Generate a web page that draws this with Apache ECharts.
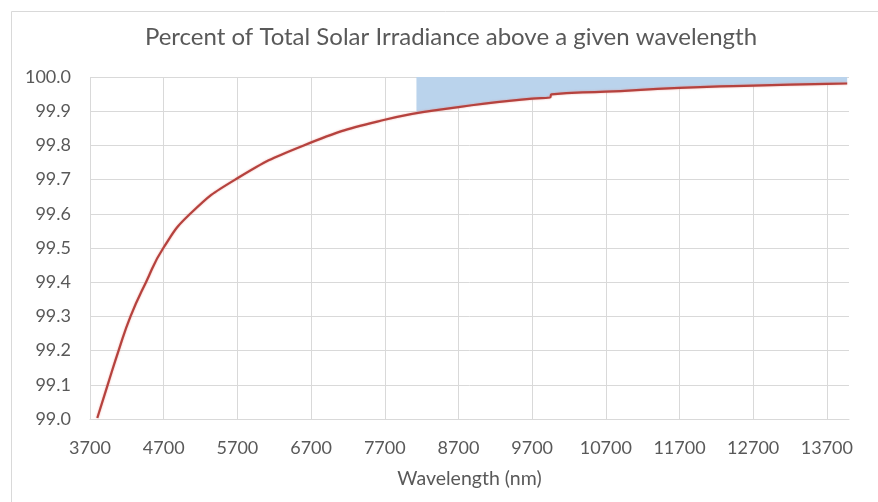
<!DOCTYPE html>
<html>
<head>
<meta charset="utf-8">
<script src="https://cdn.jsdelivr.net/npm/echarts@6/dist/echarts.min.js"></script>
<style>
html,body{margin:0;padding:0;background:#fff;}
#c{width:878px;height:502px;}
</style>
</head>
<body>
<div id="c"></div>
<script>
// Red curve: wavelength (nm) and percent of TSI above it
const wavelengths = [3799, 3940, 4088, 4250, 4460, 4695, 5060, 5670, 6600, 7700, 8700, 9700, 9942, 9962, 10700, 11700, 12700, 13700, 13975];
const percents    = [99.003, 99.100, 99.200, 99.300, 99.400, 99.500, 99.600, 99.700, 99.800, 99.875, 99.912, 99.937, 99.940, 99.949, 99.957, 99.968, 99.975, 99.980, 99.981];
// Blue shaded band (from curve up to 100)
const bandWavelengths = [8130, 8700, 9700, 9942, 9962, 10700, 11700, 12700, 13700, 13975];
const bandValues      = [99.897, 99.912, 99.937, 99.940, 99.949, 99.957, 99.968, 99.975, 99.980, 99.981];
const xTickStart = 3700, xTickStep = 1000, xMax = 14000;
const yMin = 99.0, yMax = 100.0, yStep = 0.1;

const chart = echarts.init(document.getElementById('c'));
const font = 'Lato';
chart.setOption({
  animation: false,
  backgroundColor: '#fff',
  graphic: [{
    type: 'rect', left: 11, top: 11, z: -10,
    shape: {width: 900, height: 520},
    style: {fill: '#fff', stroke: '#d9d9d9', lineWidth: 1}
  }],
  title: {
    text: 'Percent of Total Solar Irradiance above a given wavelength',
    left: 451, top: 25, textAlign: 'center', padding: 0,
    textStyle: {fontFamily: font, fontSize: 24, fontWeight: 'normal', color: '#595959'}
  },
  grid: {left: 90, right: 29, top: 77, bottom: 83, containLabel: false},
  xAxis: {
    type: 'value', min: xTickStart, max: xMax, interval: xTickStep,
    name: 'Wavelength (nm)', nameLocation: 'middle', nameGap: 50,
    nameTextStyle: {fontFamily: font, fontSize: 19.5, color: '#595959'},
    axisLine: {show: true, lineStyle: {color: '#d9d9d9', width: 1}},
    axisTick: {show: false},
    axisLabel: {fontFamily: font, fontSize: 18, color: '#595959', margin: 20, showMaxLabel: false,
      formatter: v => String(Math.round(v))},
    splitLine: {show: true, showMaxLine: false, lineStyle: {color: '#d9d9d9', width: 1}}
  },
  yAxis: {
    type: 'value', min: yMin, max: yMax, interval: yStep,
    axisLine: {show: false}, axisTick: {show: false},
    axisLabel: {fontFamily: font, fontSize: 18, color: '#595959', margin: 19,
      formatter: v => v.toFixed(1)},
    splitLine: {show: true, lineStyle: {color: '#d9d9d9', width: 1}}
  },
  series: [{
    type: 'line', name: 'band',
    data: bandWavelengths.map((w, i) => [w, bandValues[i]]),
    showSymbol: false, smooth: 0.5,
    lineStyle: {width: 0},
    areaStyle: {origin: 'end', color: '#bad3ec', opacity: 1},
    z: 1
  }, {
    type: 'line', name: 'percent',
    data: wavelengths.map((w, i) => [w, percents[i]]),
    showSymbol: false, smooth: 0.5,
    lineStyle: {width: 2.2, color: '#b5423e', shadowColor: 'rgba(230,120,110,0.6)', shadowBlur: 2},
    z: 3
  }]
});
</script>
</body>
</html>
